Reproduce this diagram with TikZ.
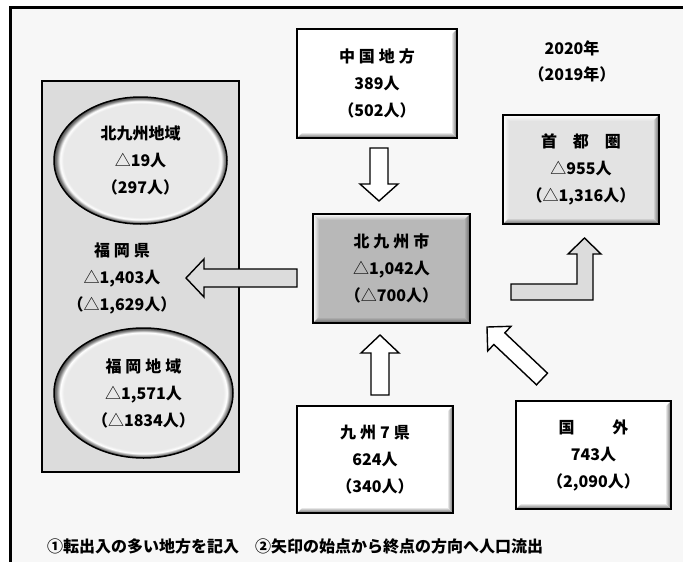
\documentclass[tikz,border=0pt]{standalone}
\usepackage{fontspec}
\setmainfont{Noto Sans CJK JP}
\usetikzlibrary{calc,shapes.geometric}
\definecolor{bgc}{HTML}{F7F7F7}
\definecolor{panelc}{HTML}{DCDCDC}
\definecolor{kitac}{HTML}{B8B8B8}
\definecolor{shutoc}{HTML}{E3E3E3}
\definecolor{ellc}{HTML}{E9E9E9}
\definecolor{arrc}{HTML}{DCDCDC}
\pgfdeclareradialshading{ellring}{\pgfpoint{0bp}{0bp}}{color(0bp)=(ellc); color(22.3bp)=(ellc); color(23.3bp)=(white); color(24.3bp)=(gray); color(25bp)=(black!70); color(50bp)=(black!70)}
\newcommand\tri{{\mdseries △}}
\newcommand\gp{\hspace{4pt}}
\tikzset{
  bevel/.style={draw=black, line width=1.8pt, fill=#1, inner sep=0pt, align=center,
    path picture={
      \coordinate (NW) at (path picture bounding box.north west);
      \coordinate (SE) at (path picture bounding box.south east);
      \coordinate (NE) at (path picture bounding box.north east);
      \coordinate (SW) at (path picture bounding box.south west);
      \shade[top color=white, bottom color=#1] (NW) -- (NE) -- ($(NE)+(-6pt,-6pt)$) -- ($(NW)+(6pt,-6pt)$) -- cycle;
      \shade[left color=white, right color=#1] (NW) -- ($(NW)+(6pt,-6pt)$) -- ($(SW)+(6pt,6pt)$) -- (SW) -- cycle;
      \shade[top color=#1, bottom color=black!60] (SW) -- ($(SW)+(6pt,6pt)$) -- ($(SE)+(-6pt,6pt)$) -- (SE) -- cycle;
      \shade[left color=#1, right color=black!60] (NE) -- (SE) -- ($(SE)+(-6pt,6pt)$) -- ($(NE)+(-6pt,-6pt)$) -- cycle;
    }},
  oval/.style={ellipse, draw=black, line width=1.5pt, shading=ellring, inner sep=0pt, align=center},
  blockarrow/.style={draw=black, line width=1.4pt, line join=miter},
  plain/.style={align=center, inner sep=0pt}
}
\begin{document}
\begin{tikzpicture}[x=1pt, y=-1pt, font=\fontsize{16}{27}\selectfont\bfseries]
\useasboundingbox (0,0) rectangle (683,562);
\clip (0,0) rectangle (683,562);
\fill[white] (0,0) rectangle (683,562);
\draw[line width=3.2pt, fill=bgc] (10.5,7.5) rectangle (700,580);

% Fukuoka prefecture panel
\node[draw=black, line width=1.8pt, fill=panelc, minimum width=197, minimum height=391, inner sep=0pt] (pref) at (140.5,276.5) {};
\node[plain] (preftxt) at (122,278.5) {福\gp 岡\gp 県\\\tri 1,403人\\（\tri 1,629人）};
\node[oval, minimum width=173, minimum height=127] (kitaarea) at (140.5,160.5) {北九州地域\\\tri 19人\\（297人）};
\node[oval, minimum width=179, minimum height=130] (fukuarea) at (143.5,393) {福\gp 岡\gp 地\gp 域\\\tri 1,571人\\（\tri 1834人）};

% boxes
\node[bevel=white, minimum width=160, minimum height=109] (chugoku) at (377,83.5) {中\gp 国\gp 地\gp 方\\389人\\（502人）};
\node[bevel=kitac, minimum width=157, minimum height=109] (kita) at (391.5,268.5) {北\gp 九\gp 州\gp 市\\\tri 1,042人\\（\tri 700人）};
\node[bevel=shutoc, minimum width=156, minimum height=109] (shuto) at (581,169.5) {首\hspace{16pt}都\hspace{16pt}圏\\\tri 955人\\（\tri 1,316人）};
\node[bevel=white, minimum width=156, minimum height=107] (kyushu) at (375,459.5) {九\gp 州\gp 7\gp 県\\624人\\（340人）};
\node[bevel=white, minimum width=155, minimum height=108] (kokugai) at (593.5,455) {国\hspace{38pt}外\\743人\\（2,090人）};

% year labels
\node[plain] (year) at (572,48) {2020年};
\node[plain] (prevyear) at (572,74) {（2019年）};

% block arrows
\draw[blockarrow, fill=white] (370,148) -- (388,148) -- (388,184) -- (398,184) -- (379,201) -- (360,184) -- (370,184) -- cycle;
\draw[blockarrow, fill=white] (371,395) -- (389,395) -- (389,353) -- (399,353) -- (380,335) -- (361,353) -- (371,353) -- cycle;
\draw[blockarrow, fill=arrc] (297,269) -- (297,287) -- (204,287) -- (204,297) -- (186,278) -- (204,259) -- (204,269) -- cycle;
\draw[blockarrow, fill=arrc] (511,284) -- (577,284) -- (577,254) -- (568,254) -- (584.5,238) -- (601,254) -- (593,254) -- (593,300) -- (511,300) -- cycle;
\draw[blockarrow, fill=white] (547.5,373.2) -- (504.85,332.87) -- (511.0,326.3) -- (487,327) -- (487.7,351.0) -- (493.85,344.49) -- (536.5,384.8) -- cycle;

% footnote
\node[anchor=west, inner sep=0pt] (note) at (47,546) {①転出入の多い地方を記入　②矢印の始点から終点の方向へ人口流出};
\end{tikzpicture}
\end{document}
